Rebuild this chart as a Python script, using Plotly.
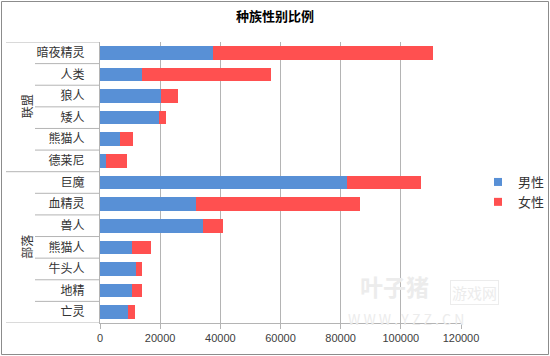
import plotly.graph_objects as go

# ---- data ----
categories = ["暗夜精灵", "人类", "狼人", "矮人", "熊猫人", "德莱尼",
              "巨魔", "血精灵", "兽人", "熊猫人", "牛头人", "地精", "亡灵"]
groups = ["联盟", "部落"]
group_sizes = [6, 7]
male = [37700, 13800, 20200, 19500, 6800, 2100,
        82100, 31900, 34100, 10600, 12100, 10600, 9400]
female = [73000, 42900, 5700, 2300, 4100, 7000,
          24700, 54600, 6700, 6500, 1700, 3200, 2200]
series_names = ["男性", "女性"]
x_ticks = [0, 20000, 40000, 60000, 80000, 100000, 120000]
title = "种族性别比例"

BLUE = "#5890D6"
RED = "#FF5050"
GRID = "#b4b4b4"
FONT = "Noto Sans CJK SC, Liberation Sans, sans-serif"

pos = list(range(len(categories)))

fig = go.Figure()
fig.add_trace(go.Bar(y=pos, x=male, orientation="h", marker_color=BLUE,
                     marker_line_width=0, name=series_names[0], showlegend=False))
fig.add_trace(go.Bar(y=pos, x=female, orientation="h", marker_color=RED,
                     marker_line_width=0, name=series_names[1], showlegend=False))
# legend entries with small square markers
for nm, col in zip(series_names, [BLUE, RED]):
    fig.add_trace(go.Scatter(x=[None], y=[None], mode="markers", name=nm,
                             marker=dict(symbol="square", size=8, color=col)))

L, R, T, B = 100, 89, 42, 33
W, H = 550, 356
pw, ph = W - L - R, H - T - B

def px_x(p):
    return (p - L) / pw

def px_y(p):
    return (H - B - p) / ph

shapes = []
n = len(categories)
# category table lines
boundaries = [-0.5]
acc = -0.5
for s in group_sizes:
    acc += s
    boundaries.append(acc)
for i in range(n + 1):
    yv = i - 0.5
    full = yv in boundaries
    shapes.append(dict(type="line", xref="paper", yref="y",
                       x0=px_x(6 if full else 35), x1=0, y0=yv, y1=yv,
                       line=dict(color=GRID, width=1)))
# outer chart border
shapes.append(dict(type="rect", xref="paper", yref="paper",
                   x0=px_x(1.5), x1=px_x(548.5), y0=px_y(354.5), y1=px_y(1.5),
                   line=dict(color="#8c8c8c", width=1), layer="above"))

annotations = []
start = 0
for g, s in zip(groups, group_sizes):
    annotations.append(dict(text=g, xref="paper", yref="y", x=px_x(16),
                            y=start + (s - 1) / 2, textangle=-90, showarrow=False,
                            font=dict(family=FONT, size=12, color="#333333")))
    start += s
# watermark
WM = "#ececec"
annotations.append(dict(text="<b>叶子猪</b>", xref="paper", yref="paper",
                        x=px_x(431), y=px_y(305), showarrow=False,
                        font=dict(family=FONT, size=23, color=WM)))
annotations.append(dict(text="游戏网", xref="paper", yref="paper",
                        x=px_x(499), y=px_y(305), showarrow=False,
                        bordercolor=WM, borderwidth=1, borderpad=1,
                        font=dict(family=FONT, size=15, color=WM)))
annotations.append(dict(text="W W W . Y Z Z . C N", xref="paper", yref="paper",
                        x=px_x(466), y=px_y(331), showarrow=False,
                        font=dict(family=FONT, size=14, color=WM)))

fig.update_layout(
    width=W, height=H,
    margin=dict(l=L, r=R, t=T, b=B, autoexpand=False),
    paper_bgcolor="white", plot_bgcolor="white",
    barmode="stack", bargap=0.37,
    title=dict(text="<b>" + title + "</b>", x=0.5, xanchor="center",
               y=1 - 16.5 / H, yanchor="middle",
               font=dict(family=FONT, size=13, color="#000000")),
    font=dict(family=FONT, size=12, color="#333333"),
    xaxis=dict(range=[0, 120000], tickvals=x_ticks,
               ticktext=[str(v) for v in x_ticks],
               showgrid=True, gridcolor=GRID, gridwidth=1,
               showline=True, linecolor=GRID, linewidth=1,
               ticks="outside", ticklen=5, tickcolor=GRID,
               zeroline=False, fixedrange=True,
               tickfont=dict(family="Liberation Sans, sans-serif", size=11, color="#404040")),
    yaxis=dict(range=[n - 0.5, -0.5], tickvals=pos, ticktext=categories,
               showgrid=False, zeroline=False, fixedrange=True,
               showline=True, linecolor=GRID, linewidth=1,
               ticks="", ticklabelstandoff=12,
               tickfont=dict(family=FONT, size=12, color="#333333")),
    legend=dict(x=px_x(478), y=px_y(192), xanchor="left", yanchor="middle",
                traceorder="normal",
                font=dict(family=FONT, size=13, color="#333333"),
                bgcolor="rgba(0,0,0,0)", itemwidth=30, tracegroupgap=0),
    shapes=shapes,
    annotations=annotations,
)

fig.write_html("out.html", config={"displayModeBar": False},
               post_script="document.body.style.margin='0';document.body.style.padding='0';")
